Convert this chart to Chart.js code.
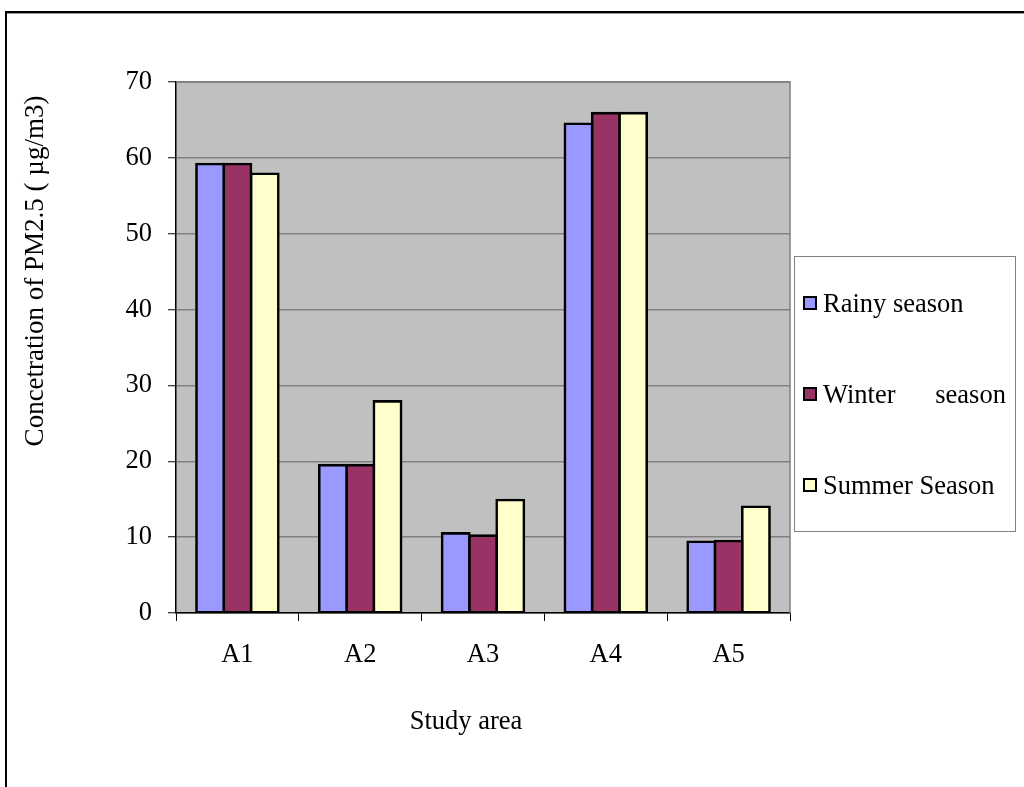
<!DOCTYPE html>
<html>
<head>
<meta charset="utf-8">
<script src="https://cdn.jsdelivr.net/npm/chart.js@4/dist/chart.umd.min.js"></script>
<style>
  html, body { margin: 0; padding: 0; background: #ffffff; }
  #wrap { width: 1024px; height: 787px; }
</style>
</head>
<body>
<div id="wrap"><canvas id="chart" width="1024" height="787"></canvas></div>
<script>
// PM2.5 concentration by study area and season
const categories = ['A1', 'A2', 'A3', 'A4', 'A5'];
const rainySeason = [59.2, 19.5, 10.5, 64.5, 9.4];
const winterSeason = [59.2, 19.5, 10.2, 65.9, 9.5];
const summerSeason = [57.9, 27.9, 14.9, 65.9, 14.0];
const seriesNames = ['Rainy season', 'Winter      season', 'Summer Season'];
const seriesColors = ['#9999FF', '#993366', '#FFFFCC'];
const yTickValues = [0, 10, 20, 30, 40, 50, 60, 70];
const yAxisTitle = 'Concetration of PM2.5 ( µg/m3)';
const xAxisTitle = 'Study area';

const FONT_FAMILY = '"Liberation Serif", "Times New Roman", serif';
const FONT_SIZE = 26.5;

// Grey plot background plus grey top/right frame of the plot area
const plotFrame = {
  id: 'plotFrame',
  beforeDraw(chart) {
    const { ctx, chartArea: a } = chart;
    ctx.save();
    ctx.fillStyle = '#ffffff';
    ctx.fillRect(0, 0, chart.width, chart.height);
    ctx.fillStyle = '#C0C0C0';
    ctx.fillRect(a.left, a.top, a.right - a.left, a.bottom - a.top);
    ctx.restore();
  },
  beforeDatasetsDraw(chart) {
    const { ctx, chartArea: a } = chart;
    ctx.save();
    ctx.strokeStyle = '#808080';
    ctx.lineWidth = 1.5;
    ctx.beginPath();
    ctx.moveTo(a.left, a.top);
    ctx.lineTo(a.right, a.top);
    ctx.lineTo(a.right, a.bottom);
    ctx.stroke();
    ctx.restore();
  }
};

// Axis captions placed beside the axes
const axisCaptions = {
  id: 'axisCaptions',
  afterDraw(chart) {
    const { ctx } = chart;
    ctx.save();
    ctx.fillStyle = '#000000';
    ctx.textAlign = 'center';
    ctx.textBaseline = 'middle';
    ctx.font = FONT_SIZE + 'px ' + FONT_FAMILY;
    ctx.fillText(xAxisTitle, 466, 722);
    ctx.font = '27px ' + FONT_FAMILY;
    ctx.translate(36, 271);
    ctx.rotate(-Math.PI / 2);
    ctx.fillText(yAxisTitle, 0, 0);
    ctx.restore();
  }
};

// Boxed legend to the right of the plot
const boxedLegend = {
  id: 'boxedLegend',
  afterDraw(chart) {
    const { ctx } = chart;
    const box = { x: 794.5, y: 256.5, w: 221, h: 275 };
    ctx.save();
    ctx.fillStyle = '#ffffff';
    ctx.fillRect(box.x, box.y, box.w, box.h);
    ctx.strokeStyle = '#808080';
    ctx.lineWidth = 1;
    ctx.strokeRect(box.x, box.y, box.w, box.h);
    ctx.font = FONT_SIZE + 'px ' + FONT_FAMILY;
    ctx.textAlign = 'left';
    ctx.textBaseline = 'alphabetic';
    chart.data.datasets.forEach((ds, i) => {
      const cy = 303 + i * 91;
      ctx.fillStyle = '#000000';
      ctx.fillRect(803, cy - 7, 14, 14);
      ctx.fillStyle = ds.backgroundColor;
      ctx.fillRect(805, cy - 5, 10, 10);
      ctx.fillStyle = '#000000';
      ctx.fillText(ds.label, 823, cy + 9);
    });
    ctx.restore();
  }
};

// Outer page frame (top and left rules)
const pageFrame = {
  id: 'pageFrame',
  afterDraw(chart) {
    const { ctx } = chart;
    ctx.save();
    ctx.fillStyle = '#000000';
    ctx.fillRect(5, 11, chart.width - 5, 2);
    ctx.fillRect(5, 11, 2, chart.height - 11);
    ctx.fillStyle = '#9a9a9a';
    ctx.fillRect(7, 13, chart.width - 7, 1);
    ctx.restore();
  }
};

const seriesValues = [rainySeason, winterSeason, summerSeason];

new Chart(document.getElementById('chart'), {
  type: 'bar',
  data: {
    labels: categories,
    datasets: seriesValues.map((vals, i) => ({
      label: seriesNames[i],
      data: vals,
      backgroundColor: seriesColors[i],
      borderColor: '#000000',
      borderWidth: 2.6,
      borderSkipped: false,
      inflateAmount: 1.3,
      categoryPercentage: 0.667,
      barPercentage: 1.0
    }))
  },
  options: {
    responsive: false,
    animation: false,
    devicePixelRatio: 1,
    layout: { padding: { top: 82, right: 234, bottom: 0, left: 0 } },
    plugins: {
      legend: { display: false },
      tooltip: { enabled: false },
      title: { display: false }
    },
    scales: {
      x: {
        type: 'category',
        offset: true,
        grid: {
          offset: true,
          drawOnChartArea: false,
          drawTicks: true,
          tickLength: 8,
          tickColor: '#000000',
          tickWidth: 1
        },
        border: { display: true, color: '#000000', width: 1.5 },
        ticks: {
          color: '#000000',
          padding: 18,
          maxRotation: 0,
          font: { family: FONT_FAMILY, size: FONT_SIZE }
        },
        afterFit(scale) { scale.height = 174; }
      },
      y: {
        min: 0,
        max: 70,
        grid: {
          color: '#808080',
          lineWidth: 1.5,
          drawTicks: true,
          tickLength: 8,
          tickColor: '#000000',
          tickWidth: 1
        },
        border: { display: true, color: '#000000', width: 1.5 },
        ticks: {
          color: '#000000',
          padding: 16,
          font: { family: FONT_FAMILY, size: FONT_SIZE }
        },
        afterBuildTicks(scale) {
          scale.ticks = yTickValues.map(v => ({ value: v }));
        },
        afterFit(scale) { scale.width = 176; }
      }
    }
  },
  plugins: [plotFrame, axisCaptions, boxedLegend, pageFrame]
});
</script>
</body>
</html>
